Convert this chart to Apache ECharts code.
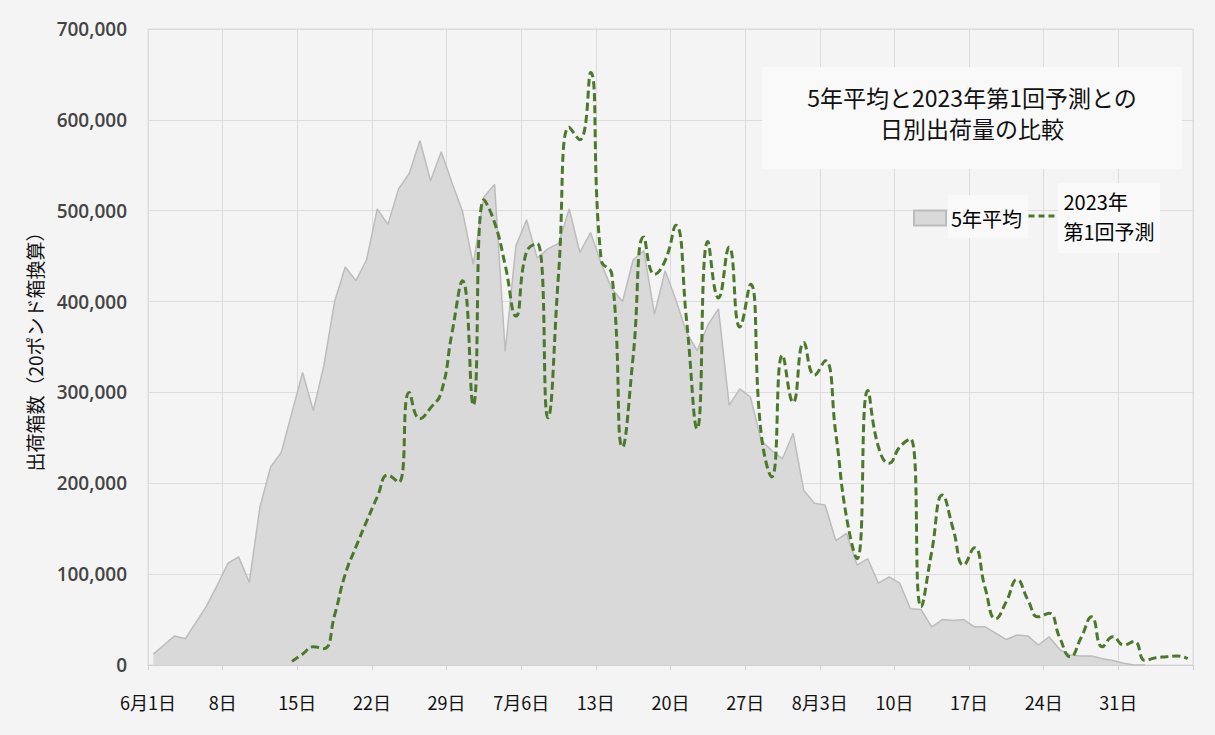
<!DOCTYPE html>
<html>
<head>
<meta charset="utf-8">
<script src="https://cdn.jsdelivr.net/npm/echarts@6/dist/echarts.min.js"></script>
<style>
html,body{margin:0;padding:0;background:#f4f4f4;}
#chart{width:1215px;height:735px;}
</style>
</head>
<body>
<div id="chart"></div>
<script>
// ---- data ----
// daily categories: 1 June .. 6 September
const monthLengths = [['6', 30], ['7', 31], ['8', 31], ['9', 6]];
const days = [];
monthLengths.forEach(function (m) { for (let d = 1; d <= m[1]; d++) days.push(m[0] + '/' + d); });

// weekly tick labels (at week boundaries 6/1 ... 9/7)
const tickLabels = ['6月1日', '8日', '15日', '22日', '29日', '7月6日', '13日', '20日', '27日', '8月3日', '10日', '17日', '24日', '31日', ''];

const yTicks = [0, 100000, 200000, 300000, 400000, 500000, 600000, 700000];

// 5-year average daily shipments (20-lb box equivalent)
const avg5yr = [
  12000, 22000, 32000, 29000, 47000, 65000, 88000, 112000, 119000, 91000,
  174000, 218000, 234000, 278000, 322000, 280000, 330000, 400000, 438000, 423000,
  446000, 502000, 485000, 524000, 541000, 577000, 533000, 565000, 531000, 499000,
  441000, 515000, 529000, 345000, 461000, 490000, 448000, 458000, 464000, 502000,
  454000, 476000, 442000, 414000, 400000, 446000, 456000, 386000, 434000, 402000,
  366000, 346000, 374000, 392000, 286000, 304000, 295000, 247000, 236000, 227000,
  255000, 192000, 178000, 176000, 137000, 145000, 110000, 117000, 90000, 97000,
  90000, 62000, 61000, 42000, 50000, 49000, 50000, 42000, 42000, 35000,
  28000, 33000, 32000, 22000, 31000, 17000, 11000, 10000, 10000, 7000,
  5000, 2000, 0, 0, null, null, null, null
];

// 2023 first estimate
const forecast2023 = [
  null, null, null, null, null, null, null, null, null, null,
  null, null, null, 4000, 12000, 20000, 18000, 55000, 100000, 130000,
  158000, 185000, 209000, 201000, 300000, 271000, 283000, 300000, 365000, 423000,
  286000, 512000, 487000, 440000, 384000, 455000, 464000, 272000, 430000, 592000,
  578000, 652000, 446000, 430000, 240000, 340000, 471000, 430000, 445000, 484000,
  380000, 260000, 466000, 404000, 460000, 372000, 419000, 255000, 207000, 341000,
  289000, 355000, 319000, 335000, 255000, 163000, 117000, 302000, 240000, 222000,
  240000, 249000, 64000, 125000, 187000, 150000, 110000, 129000, 85000, 51000,
  70000, 94000, 72000, 53000, 57000, 30000, 9000, 30000, 53000, 20000,
  31000, 22000, 26000, 5000, 8000, 9000, 10000, 7000
];

// ---- chart ----
const chart = echarts.init(document.getElementById('chart'), null, { renderer: 'svg' });
const jp = '"Noto Sans CJK JP", "Noto Sans", sans-serif';
const GREEN = '#4b782b';

chart.setOption({
  backgroundColor: '#f4f4f4',
  animation: false,
  title: {
    text: '5年平均と2023年第1回予測との\n日別出荷量の比較',
    left: 927, top: 67,
    textAlign: 'center',
    padding: [14, 45, 26, 45],
    backgroundColor: '#f9f9f9',
    textStyle: { fontFamily: jp, fontSize: 23, fontWeight: 'normal', color: '#111', lineHeight: 31 }
  },
  graphic: [
    { type: 'rect', z: 1, shape: { x: 948, y: 195, width: 80, height: 43 }, style: { fill: '#f9f9f9' } },
    { type: 'rect', z: 1, shape: { x: 1058, y: 183, width: 102, height: 70 }, style: { fill: '#f9f9f9' } }
  ],
  legend: [
    {
      data: [{ name: '5年平均', icon: 'rect' }],
      left: 913, top: 208, padding: 0,
      itemWidth: 32, itemHeight: 15, itemGap: 5,
      textStyle: { fontFamily: jp, fontSize: 20, color: '#000' }
    },
    {
      data: ['2023年第1回予測'],
      left: 1027, top: 186, padding: 0,
      itemWidth: 30, itemHeight: 15,
      itemStyle: { opacity: 0 },
      lineStyle: { width: 3, color: GREEN, type: [6, 4] },
      formatter: function () { return '2023年\n第1回予測'; },
      textStyle: { fontFamily: jp, fontSize: 20, color: '#000', lineHeight: 30 }
    }
  ],
  grid: {
    left: 148, right: 22, top: 29, bottom: 70,
    show: true, borderColor: '#dcdcdc', borderWidth: 1, backgroundColor: 'transparent'
  },
  xAxis: [
    {
      type: 'category', data: days, boundaryGap: true, position: 'bottom',
      axisLine: { show: true, lineStyle: { color: '#cfcfcf', width: 1 } },
      axisTick: { show: true, interval: 6, length: 5, lineStyle: { color: '#cfcfcf' } },
      axisLabel: { show: false },
      splitLine: { show: true, interval: 6, lineStyle: { color: '#dcdcdc', width: 1 } }
    },
    {
      type: 'category', data: tickLabels, boundaryGap: false, position: 'bottom',
      axisLine: { show: false }, axisTick: { show: false }, splitLine: { show: false },
      axisLabel: { interval: 0, margin: 28, fontFamily: jp, fontSize: 18, color: '#111' }
    }
  ],
  yAxis: {
    type: 'value', min: yTicks[0], max: yTicks[yTicks.length - 1], interval: yTicks[1] - yTicks[0],
    name: '出荷箱数（20ポンド箱換算）',
    nameLocation: 'middle', nameRotate: 90, nameGap: 104,
    nameTextStyle: { fontFamily: jp, fontSize: 19, color: '#111' },
    axisLine: { show: false }, axisTick: { show: false },
    axisLabel: {
      margin: 21, fontFamily: '"Open Sans", sans-serif', fontWeight: 600, fontSize: 19, color: '#444',
      formatter: function (v) { return v.toLocaleString('en-US'); }
    },
    splitLine: { lineStyle: { color: '#dcdcdc', width: 1 } }
  },
  series: [
    {
      name: '5年平均', type: 'line', xAxisIndex: 0, data: avg5yr,
      symbol: 'none', smooth: false, z: 2,
      lineStyle: { color: '#bcbcbc', width: 1.5 },
      itemStyle: { color: '#d9d9d9', borderColor: '#bcbcbc', borderWidth: 1 },
      areaStyle: { color: '#d9d9d9', opacity: 1 }
    },
    {
      name: '2023年第1回予測', type: 'line', xAxisIndex: 0, data: forecast2023,
      symbol: 'none', smooth: true, z: 3,
      lineStyle: { color: GREEN, width: 3, type: [8, 4] },
      itemStyle: { color: GREEN }
    }
  ]
});
</script>
</body>
</html>
